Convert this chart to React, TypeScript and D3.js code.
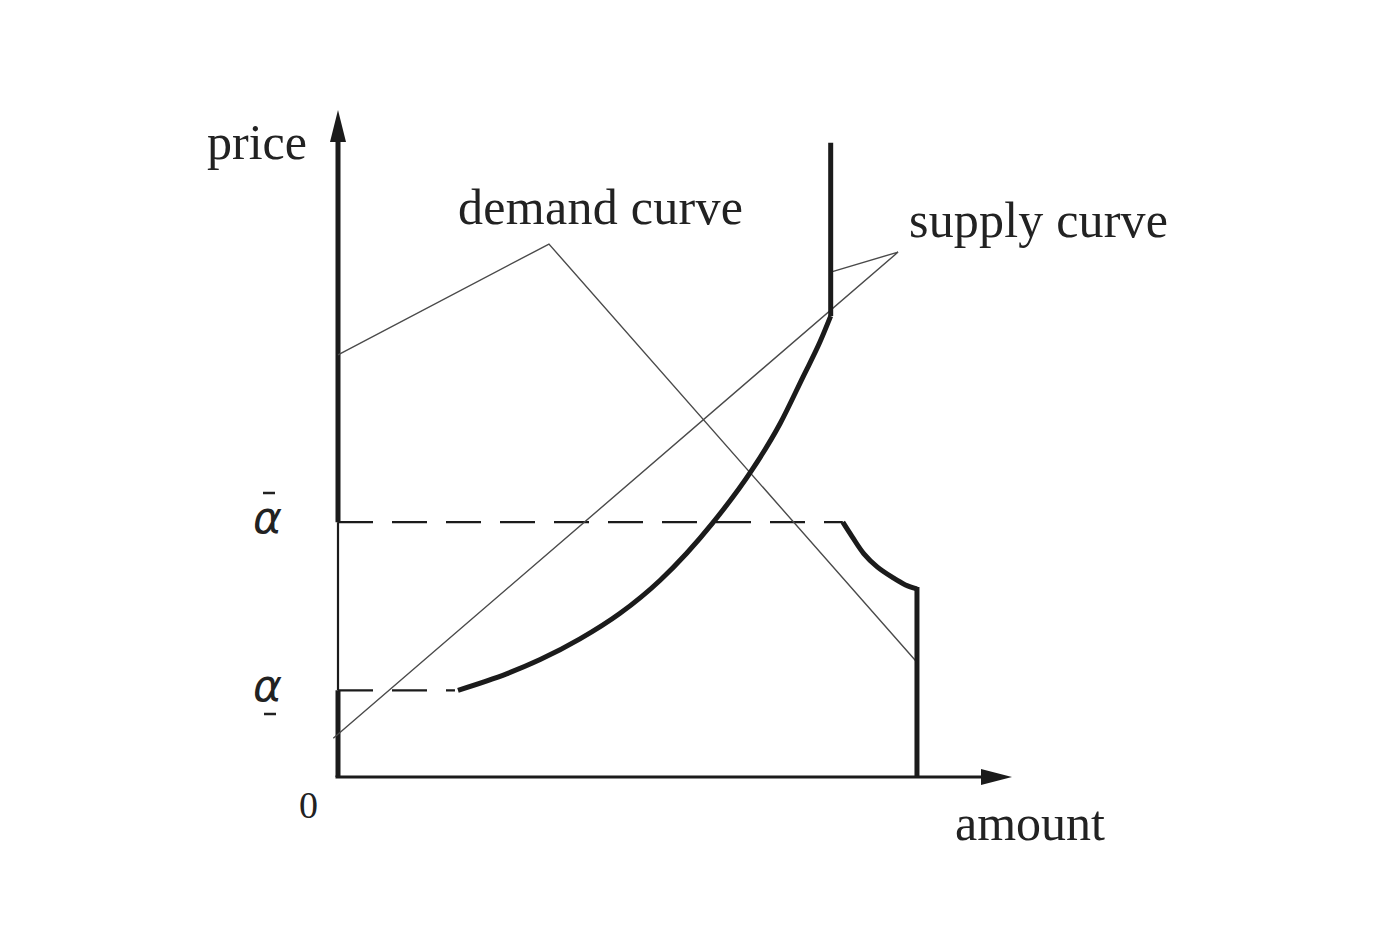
import React from "react";
import * as d3 from "d3";

// ---- data (amount 0..100, price 0..100) ----
const alphaHigh = 38.2; // ᾱ
const alphaLow = 13.0; // α̲
const supplyAmounts = [17.8, 25.1, 30.0, 35.9, 41.8, 47.8, 55.6, 61.4, 65.6, 69.0, 71.5, 73.1];
const supplyPrices = [13.0, 15.5, 17.6, 20.7, 24.5, 29.5, 38.1, 46.0, 53.0, 60.0, 65.2, 69.1];
const supplyCapAmount = 73.1;
const supplyCapTop = 95.1;
const demandAmounts = [74.9, 76.3, 78.0, 80.0, 82.3, 84.2, 85.9];
const demandPrices = [38.2, 36.0, 33.5, 31.5, 29.9, 28.8, 28.2];
const demandCapAmount = 85.9;
const demandLabelLeaderX = [0, 31.3, 85.9];
const demandLabelLeaderY = [63.3, 79.9, 17.2];
const supplyLabelAnchor = [83.1, 78.7];
const supplyLeaderEnds = [
  [73.1, 75.7],
  [-0.7, 5.8],
];
const axisLabels = { x: "amount", y: "price", origin: "0" };
const curveLabels = ["demand curve", "supply curve"];

export default function App() {
  const W = 1400;
  const H = 933;
  const x = d3.scaleLinear().domain([0, 100]).range([338, 1012]);
  const y = d3.scaleLinear().domain([0, 100]).range([777, 110]);
  const line = d3
    .line<[number, number]>()
    .x((d) => x(d[0]))
    .y((d) => y(d[1]));
  const smooth = d3
    .line<[number, number]>()
    .x((d) => x(d[0]))
    .y((d) => y(d[1]))
    .curve(d3.curveMonotoneX);
  const round = d3
    .line<[number, number]>()
    .x((d) => x(d[0]))
    .y((d) => y(d[1]))
    .curve(d3.curveCatmullRom.alpha(0.5));

  const supplyPts = supplyAmounts.map((a, i) => [a, supplyPrices[i]] as [number, number]);
  const demandPts = demandAmounts.map((a, i) => [a, demandPrices[i]] as [number, number]);
  const demandThin = demandLabelLeaderX.map((a, i) => [a, demandLabelLeaderY[i]] as [number, number]);

  const thick = "#1b1b1b";
  const thin = "#4a4a4a";
  const x0 = x(0);
  const y0 = y(0);
  const yTip = y(100);
  const xTip = x(100);
  const serif = "'Liberation Serif', 'Times New Roman', serif";
  const greek = "'DejaVu Sans', sans-serif";

  return (
    <svg
      width={W}
      height={H}
      viewBox={`0 0 ${W} ${H}`}
      style={{ position: "absolute", left: 0, top: 0, background: "#fff" }}
    >
      <rect x={0} y={0} width={W} height={H} fill="#fff" />
      {/* y axis: thick / thin / thick */}
      <line x1={x0} y1={y0} x2={x0} y2={y(alphaLow)} stroke={thick} strokeWidth={5} />
      <line x1={x0} y1={y(alphaLow)} x2={x0} y2={y(alphaHigh)} stroke={thick} strokeWidth={2.2} />
      <line x1={x0} y1={y(alphaHigh)} x2={x0} y2={yTip + 28} stroke={thick} strokeWidth={5} />
      <path d={`M${x0},${yTip} L${x0 - 8},${yTip + 32} L${x0 + 8},${yTip + 32} Z`} fill={thick} />
      {/* x axis */}
      <line x1={x0 - 2.5} y1={y0} x2={xTip - 28} y2={y0} stroke={thick} strokeWidth={3} />
      <path d={`M${xTip},${y0} L${xTip - 31},${y0 - 8} L${xTip - 31},${y0 + 8} Z`} fill={thick} />

      {/* dashed levels */}
      <line
        x1={x0}
        y1={y(alphaHigh)}
        x2={x(demandAmounts[0])}
        y2={y(alphaHigh)}
        stroke={thick}
        strokeWidth={2.2}
        strokeDasharray="35 19"
      />
      <line
        x1={x0}
        y1={y(alphaLow)}
        x2={x(supplyAmounts[0]) - 3}
        y2={y(alphaLow)}
        stroke={thick}
        strokeWidth={2.2}
        strokeDasharray="35 19"
      />

      {/* thin lines */}
      <path d={line(demandThin) || ""} fill="none" stroke={thin} strokeWidth={1.4} />
      <path
        d={
          line([
            supplyLeaderEnds[0] as [number, number],
            supplyLabelAnchor as [number, number],
            supplyLeaderEnds[1] as [number, number],
          ]) || ""
        }
        fill="none"
        stroke={thin}
        strokeWidth={1.4}
      />

      {/* supply curve */}
      <path d={smooth(supplyPts) || ""} fill="none" stroke={thick} strokeWidth={5} />
      <line
        x1={x(supplyCapAmount)}
        y1={y(supplyPrices[supplyPrices.length - 1])}
        x2={x(supplyCapAmount)}
        y2={y(supplyCapTop)}
        stroke={thick}
        strokeWidth={5}
      />

      {/* demand curve */}
      <path d={round(demandPts) || ""} fill="none" stroke={thick} strokeWidth={5} />
      <line
        x1={x(demandCapAmount)}
        y1={y(demandPrices[demandPrices.length - 1]) - 2}
        x2={x(demandCapAmount)}
        y2={y0}
        stroke={thick}
        strokeWidth={5}
      />

      {/* labels */}
      <text x={207} y={159} fontFamily={serif} fontSize={50} fill="#222" textLength={100}>
        {axisLabels.y}
      </text>
      <text x={955} y={840} fontFamily={serif} fontSize={50} fill="#222" textLength={150}>
        {axisLabels.x}
      </text>
      <text x={299} y={818} fontFamily={serif} fontSize={38} fill="#222">
        {axisLabels.origin}
      </text>
      <text x={458} y={224} fontFamily={serif} fontSize={50} fill="#222" textLength={285}>
        {curveLabels[0]}
      </text>
      <text x={909} y={237} fontFamily={serif} fontSize={50} fill="#222" textLength={259}>
        {curveLabels[1]}
      </text>

      {/* alpha labels */}
      <text x={253} y={y(alphaHigh) + 11} fontFamily={greek} fontStyle="italic" fontSize={44} fill="#222">
        α
      </text>
      <line x1={263} y1={493} x2={275} y2={493} stroke="#222" strokeWidth={2.5} />
      <text x={253} y={y(alphaLow) + 11} fontFamily={greek} fontStyle="italic" fontSize={44} fill="#222">
        α
      </text>
      <line x1={264} y1={714} x2={276} y2={714} stroke="#222" strokeWidth={2.5} />
    </svg>
  );
}
